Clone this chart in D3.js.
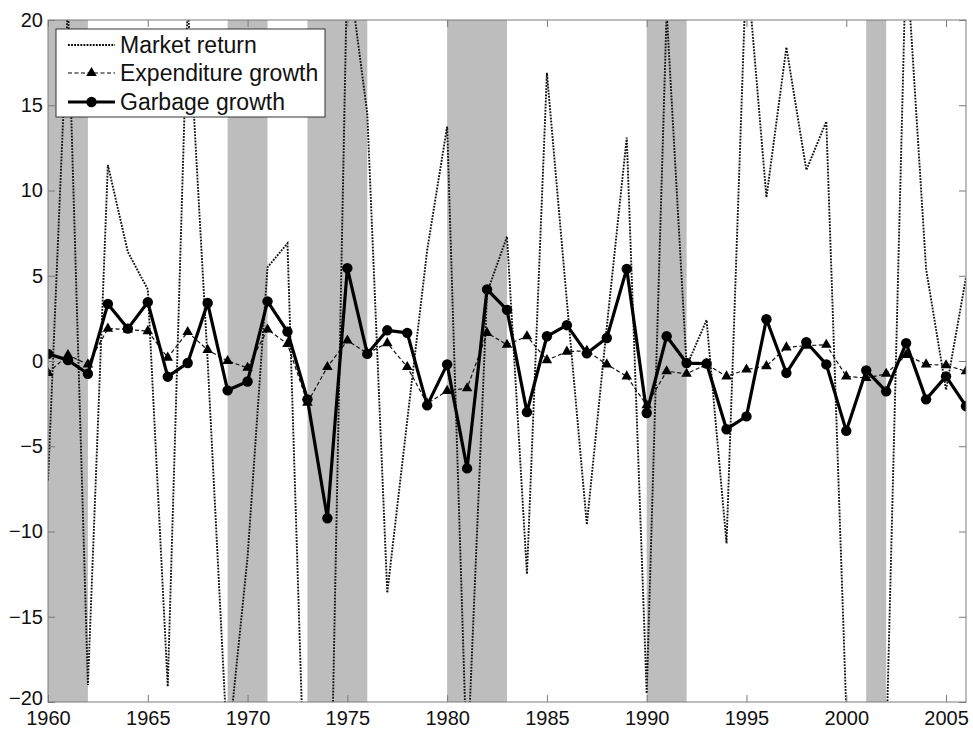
<!DOCTYPE html>
<html>
<head>
<meta charset="utf-8">
<script src="https://cdn.jsdelivr.net/npm/d3@7"></script>
<style>
  body { margin: 0; background: #fff; }
  svg { display: block; }
  text { font-family: "Liberation Sans", Arial, sans-serif; fill: #111; }
</style>
</head>
<body>
<svg id="chart" width="973" height="731"></svg>
<script>
// ---- data ----
const years = [1960,1961,1962,1963,1964,1965,1966,1967,1968,1969,1970,1971,1972,1973,1974,1975,1976,1977,1978,1979,
  1980,1981,1982,1983,1984,1985,1986,1987,1988,1989,1990,1991,1992,1993,1994,1995,1996,1997,1998,1999,
  2000,2001,2002,2003,2004,2005,2006];

const marketReturn = [-7, 21, -19, 11.5, 6.4, 4.2, -19.1, 21, 0, -23, -11.5, 5.5, 6.9, -31, -37, 23.5, 14.5, -13.6, -3.5, 6.5,
  13.75, -24, 4, 7.3, -12.5, 16.9, 3.5, -9.6, 2, 13.1, -19.5, 20.5, -0.3, 2.4, -10.7, 23.5, 9.6, 18.4, 11.2, 14.05,
  -20.5, -25, -23, 24, 5.4, -1.7, 4.9];

const expenditureGrowth = [-0.7, 0.35, -0.2, 1.9, 1.85, 1.75, 0.2, 1.7, 0.65, 0.0, -0.4, 1.85, 1.0, -2.45, -0.35, 1.2, 0.45, 1.05, -0.35, -2.5,
  -1.75, -1.6, 1.65, 0.95, 1.45, 0.05, 0.55, 0.6, -0.2, -0.9, -2.6, -0.6, -0.75, -0.2, -0.9, -0.5, -0.3, 0.8, 0.9, 0.95,
  -0.9, -1.0, -0.75, 0.35, -0.2, -0.25, -0.6];

const garbageGrowth = [0.42, 0.05, -0.75, 3.35, 1.9, 3.45, -0.92, -0.12, 3.4, -1.72, -1.2, 3.5, 1.72, -2.25, -9.22, 5.45, 0.42, 1.8, 1.65, -2.6,
  -0.2, -6.3, 4.2, 3.0, -3.0, 1.45, 2.1, 0.45, 1.35, 5.4, -3.05, 1.45, -0.12, -0.15, -4.0, -3.25, 2.45, -0.7, 1.1, -0.2,
  -4.1, -0.55, -1.78, 1.05, -2.25, -0.9, -2.65];

// recession periods [start, end]
const recessions = [[1960, 1962], [1969, 1971], [1973, 1976], [1980, 1983], [1990, 1992], [2001, 2002]];

const xTicks = [1960, 1965, 1970, 1975, 1980, 1985, 1990, 1995, 2000, 2005];
const yTicks = [-20, -15, -10, -5, 0, 5, 10, 15, 20];

const legendLabels = ["Market return", "Expenditure growth", "Garbage growth"];

// ---- layout ----
const svg = d3.select("#chart");
const L = 48, R = 966, T = 20, B = 702;
const x = d3.scaleLinear().domain([1960, 2006]).range([L, R]);
const y = d3.scaleLinear().domain([-20, 20]).range([B, T]);

svg.append("rect").attr("width", 973).attr("height", 731).attr("fill", "#fff");

svg.append("defs").append("clipPath").attr("id", "plotclip")
  .append("rect").attr("x", L).attr("y", T).attr("width", R - L).attr("height", B - T);

// recession shading
svg.append("g").selectAll("rect").data(recessions).join("rect")
  .attr("x", d => x(d[0])).attr("width", d => x(d[1]) - x(d[0]))
  .attr("y", T).attr("height", B - T)
  .attr("fill", "#bdbdbd");

const plot = svg.append("g").attr("clip-path", "url(#plotclip)");

const mk = arr => years.map((yr, i) => [yr, arr[i]]);
const line = d3.line().x(d => x(d[0])).y(d => y(d[1]));

const mktDash = "1.8,1.3", mktW = 1.9;
const expDash = "4,2.5", expW = 1.2;

// expenditure (dashed, triangles)
plot.append("path").datum(mk(expenditureGrowth))
  .attr("d", line).attr("fill", "none").attr("stroke", "#111")
  .attr("stroke-width", expW).attr("stroke-dasharray", expDash);

// market return (dotted)
plot.append("path").datum(mk(marketReturn))
  .attr("d", line).attr("fill", "none").attr("stroke", "#111")
  .attr("stroke-width", mktW).attr("stroke-dasharray", mktDash);

// garbage growth (thick solid)
plot.append("path").datum(mk(garbageGrowth))
  .attr("d", line).attr("fill", "none").attr("stroke", "#000")
  .attr("stroke-width", 3.2).attr("stroke-linejoin", "round");

const tri = d3.symbol().type(d3.symbolTriangle).size(48);
plot.append("g").selectAll("path").data(mk(expenditureGrowth)).join("path")
  .attr("d", tri).attr("transform", d => `translate(${x(d[0])},${y(d[1])})`)
  .attr("fill", "#000");

plot.append("g").selectAll("circle").data(mk(garbageGrowth)).join("circle")
  .attr("cx", d => x(d[0])).attr("cy", d => y(d[1])).attr("r", 5.2)
  .attr("fill", "#000");

// axes box and inward ticks
const axisColor = "#7a7a7a";
svg.append("rect").attr("x", L).attr("y", T).attr("width", R - L).attr("height", B - T)
  .attr("fill", "none").attr("stroke", axisColor).attr("stroke-width", 1);

const gxB = svg.append("g").attr("transform", `translate(0,${B})`)
  .call(d3.axisBottom(x).tickValues(xTicks).tickFormat(d3.format("d")).tickSize(-7).tickPadding(12));
const gxT = svg.append("g").attr("transform", `translate(0,${T})`)
  .call(d3.axisTop(x).tickValues(xTicks).tickFormat("").tickSize(-7));
const gyL = svg.append("g").attr("transform", `translate(${L},0)`)
  .call(d3.axisLeft(y).tickValues(yTicks).tickFormat(d3.format("d")).tickSize(-7).tickPadding(5));
const gyR = svg.append("g").attr("transform", `translate(${R},0)`)
  .call(d3.axisRight(y).tickValues(yTicks).tickFormat("").tickSize(-7));

[gxB, gxT, gyL, gyR].forEach(g => {
  g.select(".domain").remove();
  g.selectAll(".tick line").attr("stroke", axisColor);
  g.selectAll(".tick text").attr("font-size", 20).attr("fill", "#111")
    .attr("font-family", "'Liberation Sans', Arial, sans-serif");
});
gxB.selectAll(".tick text").attr("dy", "0.55em");
// lowest y label sits just above the x labels (as in the original)
gyL.selectAll(".tick text").filter(d => d === -20).attr("dy", "0.12em");

// legend
const lg = svg.append("g");
lg.append("rect").attr("x", 56).attr("y", 29).attr("width", 269).attr("height", 88)
  .attr("fill", "#fff").attr("stroke", "#333").attr("stroke-width", 1);
const rowsY = [45, 73, 102];
const lx0 = 68, lx1 = 115;
legendLabels.forEach((lab, i) => {
  const yy = rowsY[i];
  const ln = lg.append("line").attr("x1", lx0).attr("x2", lx1).attr("y1", yy).attr("y2", yy)
    .attr("stroke", "#000");
  if (i === 0) ln.attr("stroke-width", mktW).attr("stroke-dasharray", mktDash);
  if (i === 1) {
    ln.attr("stroke-width", expW).attr("stroke-dasharray", expDash);
    lg.append("path").attr("d", tri).attr("transform", `translate(${(lx0 + lx1) / 2},${yy})`).attr("fill", "#000");
  }
  if (i === 2) {
    ln.attr("stroke-width", 3.2);
    lg.append("circle").attr("cx", (lx0 + lx1) / 2).attr("cy", yy).attr("r", 5.2).attr("fill", "#000");
  }
  lg.append("text").attr("x", 120).attr("y", yy + 8).attr("font-size", 23).text(lab);
});
</script>
</body>
</html>
